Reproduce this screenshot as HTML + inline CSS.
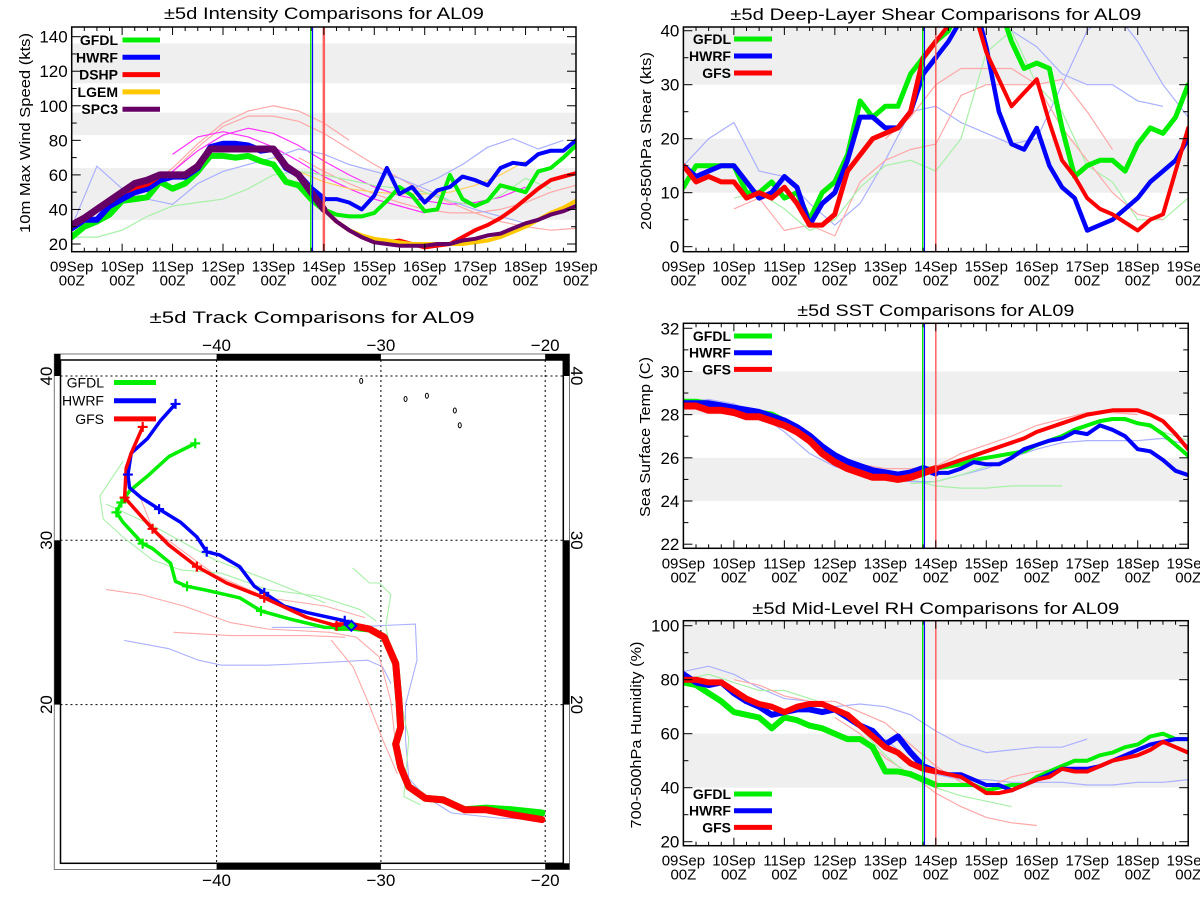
<!DOCTYPE html>
<html><head><meta charset="utf-8"><style>
html,body{margin:0;padding:0;background:#fff;}
svg{display:block;font-family:"Liberation Sans",sans-serif;}
</style></head><body>
<svg id="chart" width="1200" height="900" viewBox="0 0 1200 900" xmlns="http://www.w3.org/2000/svg"></svg>
<script>
// ---------------- DATA (6-hourly from 09Sep 00Z, 41 points) ----------------
const dayLabels=["09Sep","10Sep","11Sep","12Sep","13Sep","14Sep","15Sep","16Sep","17Sep","18Sep","19Sep"];
// Intensity (kts)
const intGFDL=[24,30,33,37,45,46,47,56,52,55,62,71,71,70,71,68,66,56,54,46,40,37,36,36,38,45,53,48,39,40,60,46,42,45,54,52,50,62,64,70,77];
const intHWRF=[29,34,34,42,46,50,52,57,59,59,64,76,78,78,77,74,75,64,60,52,46,46,44,40,48,64,49,53,44,51,53,59,57,54,64,67,66,72,74,74,80];
const intDSHP=[31,35,40,45,50,53,55,60,60,60,65,75,75,75,75,75,75,65,60,50,40,33,28,24,21,21,22,20,18,19,20,24,28,31,35,40,46,52,57,59,61];
const intLGEM=[31,35,40,45,50,55,57,60,60,60,65,75,75,75,75,75,75,65,60,50,40,33,28,25,23,22,21,20,20,20,20,20,21,22,24,27,30,34,38,41,45];
const intSPC3=[31,35,40,45,50,55,57,60,60,60,65,75,75,75,75,75,75,65,60,50,40,33,28,24,21,20,19,19,19,20,20,22,23,25,26,29,32,34,37,39,42];
// thin (older-cycle) intensity runs, 12-hourly, with start day
const intThinStart=[1.0,2.0,4.5,1.5,2.0,4.0,0,6.75,0];
const intThinVals=[
 [44,52,64,78,90,97,100,97,90,80],
 [62,76,88,94,94,91,84,75,66,58,50,44,38,33,30,28,29,31],
 [70,62,55,49,44,40,38,38,40,44,50,54],
 [50,62,74,83,87,84,77,68,60,53,48,45,43,44,47,53],
 [72,82,85,82,76,68,59,52,46,42,38],
 [70,62,56,52,50,49,49,50,54,60,68],
 [30,65,52,46,43,55,62,66,70,75,72,66,62,58,52,45,40,36,32],
 [52,58,66,76,81,75,80],
 [24,24,28,36,42,44,46,52,60,62,60,57,54,52,50,45,42,48,58,52]
];
const intThinColor=["#ffa8a8","#ffa8a8","#ffa8a8","#ff30ff","#ff30ff","#ffd060","#aab0ff","#aab0ff","#a8f0a8"];
// Shear (kts)
const shrGFDL=[11,15,15,15,15,10,10,12,9,10,5,10,12,17,27,24,26,26,32,35,38,40,45,48,48,45,38,33,34,33,22,13,15,16,16,14,19,22,21,24,30];
const shrHWRF=[15,13,14,15,15,12,9,10,13,11,4,8,10,16,24,24,22,22,25,32,35,38,42,46,37,25,19,18,22,15,11,9,3,4,5,7,9,12,14,16,20];
const shrGFS=[15,12,13,12,12,9,10,9,11,8,4,4,6,14,17,20,21,22,25,35,38,41,45,44,36,31,26,28.5,31,23,16,13,9,7,6,4.5,3,5,6,14,22];
const shrThinStart=[0,6.0,1.0,1.0,4.0];
const shrThinVals=[
 [15,20,23,14,13,8,4,8,16,25,26,23,21,19,20,30,40,44,38,30,24,22,18,12,8],
 [44,40,37,32,30,30,27,26],
 [7,9,3,4,2,12,16,18,19,28,30,30,30,31,25,18],
 [9,10,7,3,5,11,15,16,14,20,36,40,30,25,15,12,5,5,9,23,22,27,26],
 [20,24,30,33,33,33,30,22,16,10,6,5]
];
const shrThinColor=["#aab0ff","#aab0ff","#ffa8a8","#a8f0a8","#ffa8a8"];
// SST (C)
const sstGFDL=[28.6,28.6,28.5,28.4,28.3,28.2,28.1,28.0,27.7,27.4,27.0,26.5,26.1,25.8,25.6,25.4,25.3,25.2,25.25,25.4,25.5,25.6,25.7,25.9,26.0,26.1,26.2,26.3,26.6,26.8,27.0,27.3,27.5,27.7,27.8,27.8,27.6,27.5,27.1,26.6,26.1];
const sstHWRF=[28.5,28.5,28.5,28.4,28.3,28.2,28.1,27.9,27.7,27.4,27.0,26.5,26.1,25.8,25.6,25.4,25.3,25.2,25.3,25.5,25.3,25.3,25.5,25.8,25.7,25.7,26.0,26.4,26.6,26.8,26.9,27.2,27.1,27.5,27.3,27.0,26.4,26.3,25.9,25.4,25.2];
const sstGFS=[28.4,28.4,28.2,28.2,28.1,27.9,27.9,27.7,27.5,27.2,26.8,26.2,25.8,25.5,25.3,25.1,25.1,25.0,25.1,25.3,25.5,25.7,25.9,26.1,26.3,26.5,26.7,26.9,27.2,27.4,27.6,27.8,28.0,28.1,28.2,28.2,28.2,28.0,27.7,27.1,26.4];
const sstThinStart=[4.5,0,0,4.5];
const sstThinVals=[
 [25.0,24.7,24.6,24.6,24.7,24.7,24.7],
 [28.6,28.7,28.5,28.0,27.2,26.2,25.6,25.3,25.0,24.9,24.9,25.2,25.5,26.0,26.4,26.7,26.8,26.8,26.8,26.9,26.6],
 [28.5,28.4,28.2,27.9,27.5,26.6,26.0,25.7,25.5,25.5,25.6,26.2,26.6,27.0,27.5,27.8,28.1,28.1,28.0],
 [24.8,24.9,25.2,25.6,26.0,26.5,27.0,27.5,27.8,27.6,27.2,26.8]
];
const sstThinColor=["#a8f0a8","#aab0ff","#ffa8a8","#a8f0a8"];
// Mid-level RH (%)
const rhGFDL=[79,78,75,72,68,67,66,62,66,65,63,62,60,58,58,55,46,46,45,43,41,41,41,41,39,40,41,41,44,46,48,50,50,52,53,55,56,59,60,58,58];
const rhHWRF=[82,79,78,79,75,72,70,67,68,69,69,68,69,66,63,61,56,59,53,48,46,45,45,43,41,41,39,41,43,45,47,47,47,48,50,52,54,56,57,58,58];
const rhGFS=[80,80,79,79,76,73,71,70,68,70,71,71,69,67,63,59,55,53,49,47,46,45,44,41,38,38,39,41,43,44,47,46,46,48,50,51,52,54,57,55,53];
const rhThinStart=[0,3.0,0,4.0,1.0];
const rhThinVals=[
 [83,85,82,77,73,72,70,71,70,67,61,56,53,54,55,55,58],
 [66,60,51,45,38,33,29,27,26],
 [80,82,79,76,76,73,70,62,52,44,40,37,35,33],
 [58,50,45,43,43,42,42,42,41,41,42,42,43,45],
 [80,78,74,72,72,68,64,56,48,42,40,44,46,47,46]
];
const rhThinColor=["#aab0ff","#ffa8a8","#a8f0a8","#aab0ff","#ffa8a8"];
// ---------------- TRACK DATA (lon, lat) ----------------
const pastLon=[-20.2,-22.0,-23.6,-24.9,-26.2,-27.3,-28.3,-28.8,-29.1,-28.8,-28.9,-29.1,-29.8,-30.7,-31.7,-32.7];
const pastLat=[13.0,13.3,13.6,13.6,14.2,14.3,15.0,16.2,17.6,18.6,20.2,22.5,24.1,24.6,24.8,24.8];
const pastGreenLat=[13.4,13.6,13.7,13.6,14.2,14.3,15.0,16.2,17.6,18.6,20.2,22.5,24.1,24.6,24.7,24.7];
const gfsLon=[-32.7,-34.5,-37.1,-39.4,-41.2,-42.9,-43.9,-45.6,-45.5,-45.2,-44.5];
const gfsLat=[24.8,25.3,26.5,27.4,28.4,29.7,30.7,32.6,34.4,35.3,36.9];
const gfsMarks=[0,2,4,6,7,10];
const hwrfLon=[-31.8,-32.2,-34.5,-35.9,-37.1,-37.7,-38.6,-39.8,-40.6,-41.2,-42.2,-43.5,-44.6,-45.3,-45.4,-45.2,-44.2,-43.4,-42.5];
const hwrfLat=[24.8,25.1,25.6,26.0,26.8,27.2,28.4,29.1,29.3,30.2,31.1,31.9,32.6,33.2,34.0,35.3,36.2,37.3,38.3];
const hwrfMarks=[1,4,8,11,14,18];
const gfdlLon=[-31.8,-33.4,-35.5,-37.3,-38.6,-40.8,-41.8,-42.5,-42.8,-43.9,-44.5,-45.7,-46.1,-45.8,-45.3,-44.1,-42.9,-41.3];
const gfdlLat=[24.7,24.7,25.2,25.7,26.5,27.0,27.2,27.5,28.6,29.5,29.8,31.1,31.7,32.3,33.0,34.0,35.1,35.9];
const gfdlMarks=[3,6,10,12,13,17];
const thinTrkLon=[
 [-45.6,-42.9,-41.1,-39.7,-36.9,-34.5,-30.8,-29.9,-29.4],
 [-36.6,-32.2,-30.1,-27.9,-27.8,-28.5,-28.5,-28.3,-27.3,-25.7,-22.9,-20.2],
 [-46.7,-44.6,-42.0,-39.2,-36.9,-33.1,-31.5,-30.1,-29.4,-29.0],
 [-42.6,-39.2,-34.5,-32.2],
 [-33.0,-31.7,-30.8,-29.9,-29.0],
 [-44.6,-43.9,-40.1,-36.9,-33.4,-31.0],
 [-45.7,-47.1,-46.9,-45.7,-43.9,-42.2,-39.7,-36.9,-33.8,-31.3,-30.3],
 [-31.7,-30.7,-30.1,-29.4,-29.7,-29.0,-28.3,-28.6,-27.6],
 [-46.7,-43.9,-40.1,-36.9,-33.4]
];
const thinTrkLat=[
 [23.9,23.4,22.7,22.4,22.4,22.5,22.7,22.3,21.3],
 [24.7,24.7,24.8,24.9,22.7,20.0,17.9,15.5,14.4,13.4,13.1,13.0],
 [27.0,26.7,26.0,25.0,24.6,24.4,24.1,22.9,20.2,16.7],
 [24.4,24.2,24.2,24.1],
 [23.9,22.3,20.2,17.9,15.8],
 [32.5,30.7,27.9,26.5,26.0,25.3],
 [34.8,32.7,31.3,30.2,28.8,28.2,28.0,27.0,26.6,25.8,25.1],
 [28.3,27.4,27.4,26.7,24.8,21.3,17.9,14.4,13.9],
 [32.2,30.9,28.8,27.6,26.2]
];
const thinTrkColor=["#aab0ff","#aab0ff","#ffa8a8","#ffa8a8","#ffa8a8","#ffa8a8","#a8f0a8","#a8f0a8","#a8f0a8"];
const islandLon=[-28.5,-27.2,-25.5,-31.2,-25.2];
const islandLat=[38.6,38.8,37.9,39.7,37.0];

// ---------------- DRAWING ----------------
const NS='http://www.w3.org/2000/svg';
const svg=document.getElementById('chart');
function el(tag,parent,attrs){const e=document.createElementNS(NS,tag);for(const k in attrs)e.setAttribute(k,attrs[k]);parent.appendChild(e);return e;}
function txt(parent,s,attrs){const t=el('text',parent,attrs);t.textContent=s;return t;}
const GREEN='#00ee00',BLUE='#0000ff',RED='#ff0000',ORANGE='#ffc800',PURPLE='#660066';
let clipN=0;

function drawTS(P){
  const g=el('g',svg,{});
  
  
  const xs=d=>P.x0+d/10*(P.x1-P.x0);
  const ys=v=>P.yB-(v-P.yMin)/(P.yMax-P.yMin)*(P.yB-P.yT);
  const cid='clip'+(clipN++);
  const cp=el('clipPath',g,{id:cid});
  el('rect',cp,{x:P.x0,y:P.yT,width:P.x1-P.x0,height:P.yB-P.yT});
  // bands
  P.bands.forEach(b=>{
    const top=Math.min(b[1],P.yMax);
    const r=el('rect',g,{x:P.x0,y:ys(top),width:P.x1-P.x0,height:ys(b[0])-ys(top),fill:'#efefef'});
    
    
  });
  const cg=el('g',g,{'clip-path':'url(#'+cid+')'});
  // thin lines
  P.thinVals.forEach((vals,k)=>{
    const pts=vals.map((v,i)=>xs(P.thinStart[k]+i*0.5).toFixed(1)+','+ys(v).toFixed(1)).join(' ');
    const pl=el('polyline',cg,{points:pts,fill:'none',stroke:P.thinColor[k],'stroke-width':1.2});
    
    
  });
  // vertical lines
  const v1=el('line',g,{x1:xs(4.74),x2:xs(4.74),y1:P.yT,y2:P.yB,stroke:GREEN,'stroke-width':1.3});
  
  
  const v2=el('line',g,{x1:xs(4.775),x2:xs(4.775),y1:P.yT,y2:P.yB,stroke:BLUE,'stroke-width':1.2});
  
  
  const v3=el('line',g,{x1:xs(5),x2:xs(5),y1:P.yT,y2:P.yB,stroke:'#ff6060','stroke-width':P.redW});
  
  
  // thick series
  P.series.forEach(s=>{
    const past=s.vals.slice(0,21).map((v,i)=>xs(i*0.25).toFixed(1)+','+ys(v).toFixed(1)).join(' ');
    const fc=s.vals.slice(20).map((v,i)=>xs(5+i*0.25).toFixed(1)+','+ys(v).toFixed(1)).join(' ');
    const a=el('polyline',cg,{points:past,fill:'none',stroke:s.color,'stroke-width':s.wPast,'stroke-linejoin':'round','stroke-linecap':'round'});
    
    
    const b=el('polyline',cg,{points:fc,fill:'none',stroke:s.color,'stroke-width':s.wFc,'stroke-linejoin':'round','stroke-linecap':'round'});
    
    
  });
  // frame
  const fr=el('rect',g,{x:P.x0,y:P.yT,width:P.x1-P.x0,height:P.yB-P.yT,fill:'none',stroke:'#000','stroke-width':1.5});
  
  
  // x ticks
  for(let i=0;i<=40;i++){
    const x=xs(i*0.25),L=(i%4===0)?8:4;
    el('line',g,{x1:x,x2:x,y1:P.yB,y2:P.yB-L,stroke:'#000','stroke-width':1});
    el('line',g,{x1:x,x2:x,y1:P.yT,y2:P.yT+L,stroke:'#000','stroke-width':1});
  }
  dayLabels.forEach((lb,i)=>{
    const t1=txt(g,lb,{x:xs(i),y:P.yB+20,'font-size':15,'text-anchor':'middle'});
    
    
    const t2=txt(g,'00Z',{x:xs(i),y:P.yB+34,'font-size':15,'text-anchor':'middle'});
    
    
  });
  // y ticks
  for(let v=P.tickStart;v<=P.yMax+0.001;v+=P.minor){
    const y=ys(v);
    const maj=Math.abs(((v-P.tickStart)/P.major)-Math.round((v-P.tickStart)/P.major))<1e-6;
    const L=maj?9:5;
    el('line',g,{x1:P.x0,x2:P.x0+L,y1:y,y2:y,stroke:'#000','stroke-width':1});
    el('line',g,{x1:P.x1,x2:P.x1-L,y1:y,y2:y,stroke:'#000','stroke-width':1});
    if(maj){
      const t=txt(g,String(Math.round(v)),{x:P.x0-4,y:y+6,'font-size':17,'text-anchor':'end'});
      
      
    }
  }
  // titles
  const tt=txt(g,P.title,{x:(P.x0+P.x1)/2,y:P.titleY,'font-size':17,'text-anchor':'middle',textLength:P.titleW,lengthAdjust:'spacingAndGlyphs'});
  
  
  const yl=txt(g,P.ylabel,{x:0,y:0,'font-size':15,'text-anchor':'middle',textLength:P.ylabelW,lengthAdjust:'spacingAndGlyphs',transform:'translate('+P.ylabelX+','+P.ylabelY+') rotate(-90)'});
  
  
  // legend
  P.legend.forEach((it,k)=>{
    const y=P.legY+k*P.legDy;
    const lg=el('g',g,{});
    
    
    const t=txt(lg,it[0],{x:P.legTx,y:y+5,'font-size':14,'font-weight':'bold','text-anchor':'end'});
    
    
    const l=el('line',lg,{x1:P.legL0,x2:P.legL1,y1:y,y2:y,stroke:it[1],'stroke-width':5});
    
    
  });
}

drawTS({name:'intensity-panel',x0:71.7,x1:576,yT:27,yB:251.7,yMin:15.54,yMax:145.6,
  bands:[[34,64],[83,96],[113,136]],tickStart:20,major:20,minor:10,redW:2.5,
  title:'±5d Intensity Comparisons for AL09',titleY:19,titleW:320,
  ylabel:'10m Max Wind Speed (kts)',ylabelX:30,ylabelY:133,ylabelW:200,
  legend:[['GFDL',GREEN],['HWRF',BLUE],['DSHP',RED],['LGEM',ORANGE],['SPC3',PURPLE]],
  legY:40,legDy:17.3,legTx:118,legL0:122.5,legL1:160,
  thinStart:intThinStart,thinVals:intThinVals,thinColor:intThinColor,
  series:[{id:'gfdl',vals:intGFDL,color:GREEN,wPast:6,wFc:4},{id:'hwrf',vals:intHWRF,color:BLUE,wPast:6,wFc:4},
          {id:'dshp',vals:intDSHP,color:RED,wPast:6,wFc:4},{id:'lgem',vals:intLGEM,color:ORANGE,wPast:6,wFc:4},
          {id:'spc3',vals:intSPC3,color:PURPLE,wPast:7,wFc:4}]});

drawTS({name:'shear-panel',x0:683.4,x1:1188.2,yT:27,yB:251.7,yMin:-0.93,yMax:40.69,
  bands:[[10,20],[30,45]],tickStart:0,major:10,minor:5,redW:1.5,
  title:'±5d Deep-Layer Shear Comparisons for AL09',titleY:20,titleW:411,
  ylabel:'200-850hPa Shear (kts)',ylabelX:651,ylabelY:141,ylabelW:178,
  legend:[['GFDL',GREEN],['HWRF',BLUE],['GFS',RED]],
  legY:39,legDy:17,legTx:731,legL0:734,legL1:772,
  thinStart:shrThinStart,thinVals:shrThinVals,thinColor:shrThinColor,
  series:[{id:'gfdl',vals:shrGFDL,color:GREEN,wPast:5,wFc:5},{id:'hwrf',vals:shrHWRF,color:BLUE,wPast:5,wFc:4.5},
          {id:'gfs',vals:shrGFS,color:RED,wPast:5,wFc:4}]});

drawTS({name:'sst-panel',x0:683.4,x1:1188.2,yT:323.3,yB:548.3,yMin:21.81,yMax:32.23,
  bands:[[24,26],[28,30]],tickStart:22,major:2,minor:1,redW:1.5,
  title:'±5d SST Comparisons for AL09',titleY:316,titleW:277,
  ylabel:'Sea Surface Temp (C)',ylabelX:650,ylabelY:437,ylabelW:160,
  legend:[['GFDL',GREEN],['HWRF',BLUE],['GFS',RED]],
  legY:336,legDy:16.7,legTx:731,legL0:734,legL1:772,
  thinStart:sstThinStart,thinVals:sstThinVals,thinColor:sstThinColor,
  series:[{id:'gfdl',vals:sstGFDL,color:GREEN,wPast:6,wFc:4},{id:'hwrf',vals:sstHWRF,color:BLUE,wPast:7,wFc:4},
          {id:'gfs',vals:sstGFS,color:RED,wPast:7,wFc:4}]});

drawTS({name:'rh-panel',x0:683.4,x1:1188.2,yT:620.7,yB:845.7,yMin:18.52,yMax:101.85,
  bands:[[40,60],[80,105]],tickStart:20,major:20,minor:10,redW:1.5,
  title:'±5d Mid-Level RH Comparisons for AL09',titleY:614,titleW:367,
  ylabel:'700-500hPa Humidity (%)',ylabelX:641,ylabelY:735,ylabelW:187,
  legend:[['GFDL',GREEN],['HWRF',BLUE],['GFS',RED]],
  legY:794,legDy:16.7,legTx:731,legL0:734,legL1:772,
  thinStart:rhThinStart,thinVals:rhThinVals,thinColor:rhThinColor,
  series:[{id:'gfdl',vals:rhGFDL,color:GREEN,wPast:6,wFc:4},{id:'hwrf',vals:rhHWRF,color:BLUE,wPast:6,wFc:4},
          {id:'gfs',vals:rhGFS,color:RED,wPast:6,wFc:4}]});

// ---------------- TRACK PANEL ----------------
(function(){
  const g=el('g',svg,{});
  
  
  const lx=lon=>216.6+(lon+40)*16.43;
  const ly=lat=>540.3-(lat-30)*16.43;
  const IX0=60.5,IX1=563.3,IY0=360,IY1=863.3,OX0=54.3,OX1=569.5,OY0=354,OY1=869.5;
  const o=el('rect',g,{x:OX0,y:OY0,width:OX1-OX0,height:OY1-OY0,fill:'none',stroke:'#777','stroke-width':1});
  
  
  // frame bars
  const bars=[[lx(-40),OY0,lx(-30)-lx(-40),IY0-OY0],[lx(-20),OY0,IX1-lx(-20)+6,IY0-OY0],
    [lx(-40),IY1,lx(-30)-lx(-40),OY1-IY1],[lx(-20),IY1,IX1-lx(-20)+6,OY1-IY1],
    [OX0,IY0-6,IX0-OX0,ly(40)-IY0+6],[OX0,ly(30),IX0-OX0,ly(20)-ly(30)],
    [IX1,IY0-6,OX1-IX1,ly(40)-IY0+6],[IX1,ly(30),OX1-IX1,ly(20)-ly(30)]];
  bars.forEach(b=>{
    const r=el('rect',g,{x:b[0],y:b[1],width:b[2],height:b[3],fill:'#000'});
    
    
  });
  const inn=el('rect',g,{x:IX0,y:IY0,width:IX1-IX0,height:IY1-IY0,fill:'#fff',stroke:'#000','stroke-width':1.5});
  
  
  const cp=el('clipPath',g,{id:'trkclip'});
  el('rect',cp,{x:IX0,y:IY0,width:IX1-IX0,height:IY1-IY0});
  const cg=el('g',g,{'clip-path':'url(#trkclip)'});
  // grid
  [-40,-30,-20].forEach(lon=>{
    const l=el('line',cg,{x1:lx(lon),x2:lx(lon),y1:IY0,y2:IY1,stroke:'#000','stroke-width':1,'stroke-dasharray':'2,3'});
    
    
  });
  [40,30,20].forEach(lat=>{
    const l=el('line',cg,{x1:IX0,x2:IX1,y1:ly(lat),y2:ly(lat),stroke:'#000','stroke-width':1,'stroke-dasharray':'2,3'});
    
    
  });
  // islands
  islandLon.forEach((lon,i)=>{
    const e=el('ellipse',cg,{cx:lx(lon),cy:ly(islandLat[i]),rx:1.5,ry:2.5,fill:'none',stroke:'#000','stroke-width':1});
    
    
  });
  const pl=(lons,lats,color,w,name)=>{
    const p=el('polyline',cg,{points:lons.map((lo,i)=>lx(lo).toFixed(1)+','+ly(lats[i]).toFixed(1)).join(' '),fill:'none',stroke:color,'stroke-width':w,'stroke-linejoin':'round','stroke-linecap':'round'});
    
    
  };
  thinTrkLon.forEach((lons,k)=>pl(lons,thinTrkLat[k],thinTrkColor[k],1.1,'older-track'));
  pl(pastLon,pastGreenLat,GREEN,7,'gfdl-past-track');
  pl(pastLon.slice(0,15),pastLat.slice(0,15),BLUE,6,'hwrf-past-track');
  pl(pastLon,pastLat,RED,7,'gfs-past-track');
  pl(gfdlLon,gfdlLat,GREEN,3.5,'gfdl-forecast-track');
  pl(hwrfLon,hwrfLat,BLUE,3.5,'hwrf-forecast-track');
  pl(gfsLon,gfsLat,RED,3.5,'gfs-forecast-track');
  const marks=(lons,lats,idx,color)=>idx.forEach(i=>{
    const x=lx(lons[i]),y=ly(lats[i]);
    const p=el('path',cg,{d:'M'+(x-5)+' '+y+'H'+(x+5)+'M'+x+' '+(y-5)+'V'+(y+5),stroke:color,'stroke-width':2.2});
    
    
  });
  marks(gfdlLon,gfdlLat,gfdlMarks,GREEN);
  marks(hwrfLon,hwrfLat,hwrfMarks,BLUE);
  marks(gfsLon,gfsLat,gfsMarks,RED);
  const dx=lx(hwrfLon[0]),dy=ly(hwrfLat[0]);
  const dm=el('path',cg,{d:'M'+dx+' '+(dy-5)+'L'+(dx+5)+' '+dy+'L'+dx+' '+(dy+5)+'L'+(dx-5)+' '+dy+'Z',fill:GREEN,stroke:BLUE,'stroke-width':2});
  
  
  // labels
  [-40,-30,-20].forEach(lon=>{
    const t1=txt(g,'−'+Math.abs(lon),{x:lx(lon),y:351,'font-size':17,'text-anchor':'middle'});
    
    
    const t2=txt(g,'−'+Math.abs(lon),{x:lx(lon),y:886,'font-size':17,'text-anchor':'middle'});
    
    
  });
  [40,30,20].forEach(lat=>{
    const t1=txt(g,String(lat),{x:0,y:0,'font-size':17,'text-anchor':'middle',transform:'translate(52,'+ly(lat)+') rotate(-90)'});
    
    
    const t2=txt(g,String(lat),{x:0,y:0,'font-size':17,'text-anchor':'middle',transform:'translate(571,'+ly(lat)+') rotate(90)'});
    
    
  });
  const tt=txt(g,'±5d Track Comparisons for AL09',{x:312,y:323,'font-size':17,'text-anchor':'middle',textLength:325,lengthAdjust:'spacingAndGlyphs'});
  
  
  [['GFDL',GREEN],['HWRF',BLUE],['GFS',RED]].forEach((it,k)=>{
    const y=382.5+k*18.2;
    const lg=el('g',g,{});
    
    
    const t=txt(lg,it[0],{x:104,y:y+5,'font-size':14,'text-anchor':'end'});
    
    
    const l=el('line',lg,{x1:114,x2:156,y1:y,y2:y,stroke:it[1],'stroke-width':5});
    
    
  });
})();
</script>
</body></html>
